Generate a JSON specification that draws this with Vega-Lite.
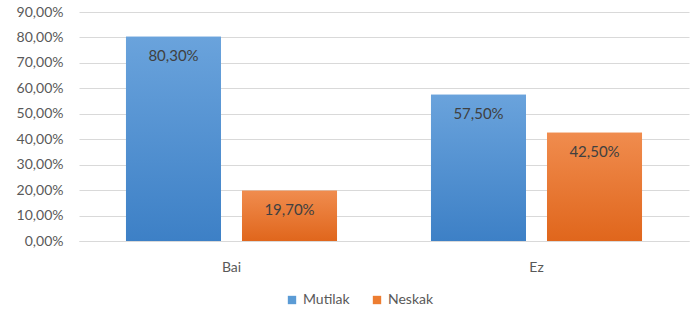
{
  "$schema": "https://vega.github.io/schema/vega-lite/v6.json",
  "width": 610,
  "height": 229,
  "autosize": {"type": "none"},
  "padding": {"left": 79, "top": 12, "right": 6, "bottom": 72},
  "background": "#ffffff",
  "config": {
    "locale": {"number": {"decimal": ",", "thousands": ".", "grouping": [3], "currency": ["", " €"]}},
    "view": {"stroke": null},
    "font": "Lato",
    "axis": {"labelFont": "Lato", "labelColor": "#595959", "labelFontSize": 14}
  },
  "data": {
    "values": [
      {"group": "Bai", "series": "Mutilak", "value": 0.803},
      {"group": "Bai", "series": "Neskak", "value": 0.197},
      {"group": "Ez", "series": "Mutilak", "value": 0.575},
      {"group": "Ez", "series": "Neskak", "value": 0.425}
    ]
  },
  "encoding": {
    "x": {"field": "group", "type": "nominal", "sort": null,
      "scale": {"paddingInner": 0, "paddingOuter": 0},
      "axis": {"title": null, "labelAngle": 0, "ticks": false, "domainColor": "#d9d9d9", "labelPadding": 19}},
    "xOffset": {"field": "series", "type": "nominal", "scale": {"paddingInner": 0.181, "paddingOuter": 0.405}},
    "y": {"field": "value", "type": "quantitative",
      "scale": {"domain": [0, 0.9]},
      "axis": {"title": null, "format": ".2%", "values": [0,0.1,0.2,0.3,0.4,0.5,0.6,0.7,0.8,0.9], "domain": false, "ticks": false, "labelPadding": 16, "gridColor": "#d9d9d9"}}
  },
  "layer": [
    {
      "mark": {"type": "bar"},
      "encoding": {
        "color": {"field": "series", "type": "nominal",
          "scale": {"domain": ["Mutilak", "Neskak"], "range": ["#5b9bd5", "#ed7d31"]},
          "legend": {"title": null, "orient": "none", "legendX": 206, "legendY": 281, "direction": "horizontal", "symbolType": "square", "symbolSize": 70, "labelFontSize": 14, "labelColor": "#595959", "labelFont": "Lato", "columnPadding": 20, "labelOffset": 4, "symbolStrokeWidth": 0}}
      }
    },
    {
      "mark": {"type": "bar"},
      "encoding": {
        "color": {
          "condition": {"test": "datum.series === 'Mutilak'", "value": {"gradient": "linear", "x1": 0, "y1": 0, "x2": 0, "y2": 1, "stops": [{"offset": 0, "color": "#6aa3dc"}, {"offset": 1, "color": "#3d80c6"}]}},
          "value": {"gradient": "linear", "x1": 0, "y1": 0, "x2": 0, "y2": 1, "stops": [{"offset": 0, "color": "#f08c4e"}, {"offset": 1, "color": "#e0661c"}]}
        }
      }
    },
    {
      "mark": {"type": "text", "baseline": "middle", "dy": 19, "fontSize": 15, "color": "#404040", "font": "Lato"},
      "encoding": {
        "text": {"field": "value", "type": "quantitative", "format": ".2%"}
      }
    }
  ]
}
